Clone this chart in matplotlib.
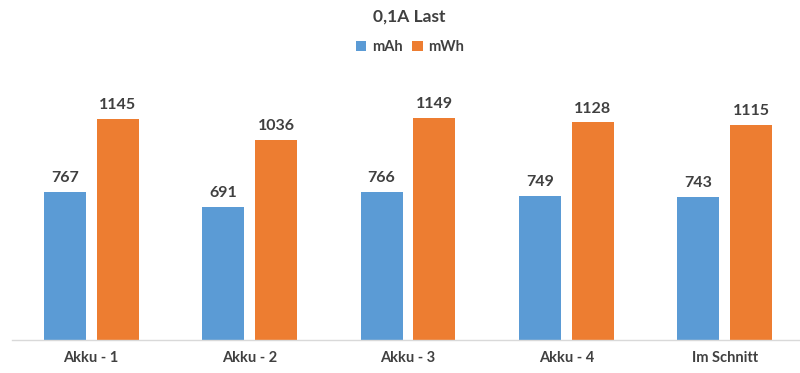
import numpy as np
import matplotlib.pyplot as plt

categories = ["Akku - 1", "Akku - 2", "Akku - 3", "Akku - 4", "Im Schnitt"]
mah = [767, 691, 766, 749, 743]
mwh = [1145, 1036, 1149, 1128, 1115]

plt.rcParams["font.family"] = ["Lato", "DejaVu Sans"]
TEXT = "#404040"
BLUE = "#5B9BD5"
ORANGE = "#ED7D31"

fig = plt.figure(figsize=(8, 3.73), dpi=100)
# baseline at 340 px from top, ~0.193 px per unit
ax = fig.add_axes([12 / 800, 33 / 373, 792 / 800, 270 / 373])

x = np.arange(len(categories))
w = 0.265
off = 0.167
b1 = ax.bar(x - off, mah, w, color=BLUE, label="mAh")
b2 = ax.bar(x + off, mwh, w, color=ORANGE, label="mWh")

for bars, vals in ((b1, mah), (b2, mwh)):
    for bar, v in zip(bars, vals):
        ax.annotate(f"{v}", xy=(bar.get_x() + bar.get_width() / 2, v),
                    xytext=(0, 5), textcoords="offset points",
                    ha="center", va="bottom", fontsize=11.5,
                    fontweight="bold", color=TEXT)

ax.set_xlim(-0.5, 4.5)
ax.set_ylim(0, 1400)
ax.set_xticks(x)
ax.set_xticklabels(categories, fontsize=10.5, fontweight="bold", color=TEXT)
ax.tick_params(axis="x", length=0, pad=8)
ax.set_yticks([])
for s in ("top", "right", "left"):
    ax.spines[s].set_visible(False)
ax.spines["bottom"].set_color("#D9D9D9")
ax.spines["bottom"].set_linewidth(1)
ax.set_facecolor("none")

fig.text(409 / 800, 1 - 17 / 373, "0,1A Last", ha="center", va="center",
         fontsize=12.5, fontweight="bold", color=TEXT)
fig.legend(handles=[b1, b2], loc="center", bbox_to_anchor=(410 / 800, 1 - 47 / 373),
           ncol=2, frameon=False, handlelength=0.7,
           handleheight=0.7, handletextpad=0.4, columnspacing=0.7,
           labelcolor=TEXT, prop={"weight": "bold", "size": 10.5})

fig.savefig("out.png", dpi=100, facecolor="white")
